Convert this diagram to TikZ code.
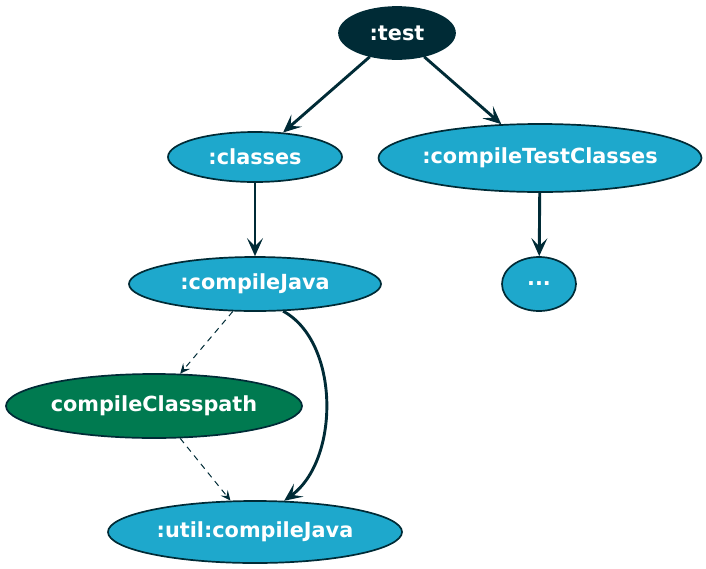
\documentclass[tikz,border=0pt]{standalone}
\usepackage{fontspec}
\setmainfont{DejaVu Sans}
\usetikzlibrary{shapes.geometric,arrows.meta}
\definecolor{dk}{RGB}{0,43,54}
\definecolor{bl}{RGB}{30,168,204}
\definecolor{gr}{RGB}{0,122,80}
\tikzset{
  task/.style={ellipse,draw=dk,line width=1.7pt,inner xsep=-10pt,inner ysep=0pt,text=white,
    font=\fontsize{20.8}{24}\selectfont\bfseries},
  bluetask/.style={task,fill=bl},
  dep/.style={draw=dk,line width=2.9pt,-{Stealth[length=18pt,width=16pt,inset=8pt]}},
  cp/.style={draw=dk,line width=1pt,dash pattern=on 6pt off 5pt,-{Stealth[length=10pt,width=9pt,inset=4pt]}}
}
\begin{document}
\begin{tikzpicture}[x=1pt,y=-1pt]
\useasboundingbox (0,0) rectangle (706,568);
\node[task,fill=dk,minimum width=116pt,minimum height=52pt] (test) at (397,33) {:test};
\node[bluetask,minimum width=174pt,minimum height=50pt] (classes) at (255,157) {:classes};
\node[bluetask,minimum width=323pt,minimum height=68pt] (ctc) at (540,158) {:compileTestClasses};
\node[bluetask,minimum width=252pt,minimum height=54pt] (cj) at (255,284) {:compileJava};
\node[bluetask,minimum width=74pt,minimum height=54pt] (dots) at (539,284) {...};
\node[task,fill=gr,minimum width=296pt,minimum height=64pt] (ccp) at (154,406) {compileClasspath};
\node[bluetask,minimum width=294pt,minimum height=62pt] (util) at (255,532) {:util:compileJava};
\draw[dep] (test) -- (classes);
\draw[dep] (test) -- (ctc);
\draw[dep] (classes) -- (cj);
\draw[dep] (ctc) -- (dots);
\draw[cp] (cj.-129) -- (ccp.51);
\draw[cp] (ccp.-51) -- (util.128);
\draw[dep] (cj.-44) .. controls (340,342) and (340,460) .. (util.47);
\end{tikzpicture}
\end{document}
